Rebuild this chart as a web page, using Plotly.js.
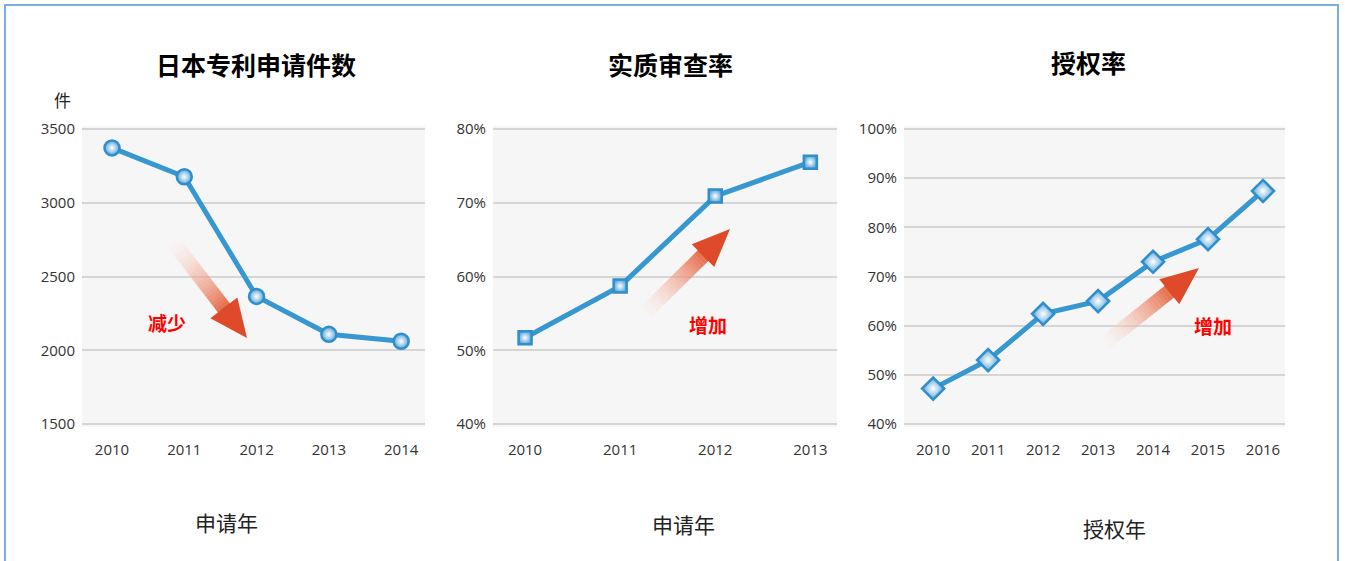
<!DOCTYPE html>
<html>
<head>
<meta charset="utf-8">
<script src="https://cdn.plot.ly/plotly-3.0.1.min.js"></script>
<style>html,body{margin:0;padding:0;background:#fff;}#chart{width:1345px;height:561px;}</style>
</head>
<body>
<div id="chart"></div>
<script>
// ---- data ----
const titles = ['日本专利申请件数', '实质审查率', '授权率'];
const xTitles = ['申请年', '申请年', '授权年'];
const yUnit = '件';
const years1 = ['2010', '2011', '2012', '2013', '2014'];
const applications = [3372, 3176, 2365, 2108, 2061];
const years2 = ['2010', '2011', '2012', '2013'];
const examRate = [51.7, 58.7, 70.9, 75.5];
const years3 = ['2010', '2011', '2012', '2013', '2014', '2015', '2016'];
const grantRate = [47.2, 53.0, 62.4, 65.0, 73.0, 77.6, 87.4];
const trendLabels = ['减少', '增加', '增加'];

// ---- layout helpers ----
const W = 1345, H = 561;
const px = x => x / W;
const py = y => 1 - y / H;
const lineColor = '#3797d0';
const tickFont = {family: 'Open Sans, Liberation Sans, sans-serif', size: 15, color: '#333'};

function markerStyle(symbol, size) {
  return {symbol: symbol, size: size, color: '#5aa7d8',
          gradient: {type: 'radial', color: '#ffffff'},
          line: {color: '#2f8ecb', width: 2.5}};
}

const traces = [
  {x: years1, y: applications, xaxis: 'x', yaxis: 'y', type: 'scatter', mode: 'lines+markers',
   line: {color: lineColor, width: 5}, marker: markerStyle('circle', 15), cliponaxis: false},
  {x: years2, y: examRate, xaxis: 'x2', yaxis: 'y2', type: 'scatter', mode: 'lines+markers',
   line: {color: lineColor, width: 5}, marker: markerStyle('square', 13), cliponaxis: false},
  {x: years3, y: grantRate, xaxis: 'x3', yaxis: 'y3', type: 'scatter', mode: 'lines+markers',
   line: {color: lineColor, width: 5}, marker: markerStyle('diamond', 17), cliponaxis: false}
];

function xAxis(dom, range, anchor) {
  return {domain: [px(dom[0]), px(dom[1])], range: range, type: 'category', anchor: anchor,
          showgrid: false, zeroline: false, showline: false,
          ticks: 'outside', ticklen: 9, tickcolor: 'rgba(0,0,0,0)', tickfont: tickFont, fixedrange: true};
}
// top/bottom pixel of first/last gridline; plot area padded by 3px each side
function yAxis(top, bottom, lo, hi, dtick, suffix, anchor) {
  const pad = 3;
  const perPx = (hi - lo) / (bottom - top);
  return {domain: [py(bottom + pad), py(top - pad)], range: [lo - pad * perPx, hi + pad * perPx],
          tickmode: 'linear', dtick: dtick, tick0: lo, ticksuffix: suffix,
          anchor: anchor, showgrid: true, gridcolor: '#d5d5d5', gridwidth: 2, zeroline: false, showline: false,
          ticks: 'outside', ticklen: 3, tickcolor: 'rgba(0,0,0,0)', tickfont: tickFont, fixedrange: true};
}

// gradient arrow made of segments + head, in pixel space -> paper
function arrowShapes(tail, tip, headLen, headHalf, shaftW) {
  const dx = tip[0] - tail[0], dy = tip[1] - tail[1];
  const L = Math.sqrt(dx * dx + dy * dy);
  const ux = dx / L, uy = dy / L;
  const nx = -uy, ny = ux;
  const base = [tip[0] - headLen * ux, tip[1] - headLen * uy];
  const shapes = [];
  const N = 24;
  const c0 = [252, 236, 228], c1 = [230, 100, 65];
  for (let i = 0; i < N; i++) {
    const t0 = i / N, t1 = (i + 1.05) / N;
    const t = (i + 0.5) / N;
    const a = 0.08 + 0.92 * Math.pow(t, 0.8);
    const c = c0.map((v, k) => Math.round(v + (c1[k] - v) * t));
    const ex = base[0] + ux * 2, ey = base[1] + uy * 2;
    const xa = tail[0] + (ex - tail[0]) * t0, ya = tail[1] + (ey - tail[1]) * t0;
    const xb = tail[0] + (ex - tail[0]) * Math.min(t1, 1), yb = tail[1] + (ey - tail[1]) * Math.min(t1, 1);
    shapes.push({type: 'line', xref: 'paper', yref: 'paper', x0: px(xa), y0: py(ya), x1: px(xb), y1: py(yb),
                 line: {color: `rgba(${c[0]},${c[1]},${c[2]},${a.toFixed(3)})`, width: shaftW}, layer: 'above'});
  }
  const p1 = [base[0] + headHalf * nx, base[1] + headHalf * ny];
  const p2 = [base[0] - headHalf * nx, base[1] - headHalf * ny];
  const path = `M ${px(p1[0])} ${py(p1[1])} L ${px(tip[0])} ${py(tip[1])} L ${px(p2[0])} ${py(p2[1])} Z`;
  shapes.push({type: 'path', xref: 'paper', yref: 'paper', path: path, fillcolor: '#de4a2a',
               line: {width: 0}, layer: 'above'});
  return shapes;
}

const shapes = [
  {type: 'rect', xref: 'paper', yref: 'paper', x0: px(5), x1: px(1338), y0: -0.1, y1: py(5),
   line: {color: '#7aaee0', width: 2}, fillcolor: 'rgba(0,0,0,0)', layer: 'below'}
].concat(
  arrowShapes([174, 243], [247, 338], 38, 17, 15),
  arrowShapes([645, 313], [730, 229], 38, 16, 15),
  arrowShapes([1105, 343], [1199, 268], 38, 16, 15)
);

function ann(text, x, y, font) {
  return {text: text, xref: 'paper', yref: 'paper', x: px(x), y: py(y), showarrow: false,
          xanchor: 'center', yanchor: 'middle', font: font};
}
const titleFont = {family: 'Noto Sans CJK SC, sans-serif', size: 25, color: '#000', weight: 'bold'};
const xtFont = {family: 'Noto Sans CJK SC, sans-serif', size: 21, color: '#222'};
const redFont = {family: 'Noto Sans CJK SC, sans-serif', size: 19, color: '#ff0000', weight: 'bold'};

const annotations = [
  ann(titles[0], 256, 64, titleFont),
  ann(titles[1], 670, 64, titleFont),
  ann(titles[2], 1088, 62, titleFont),
  ann(yUnit, 62, 99, {family: 'Noto Sans CJK SC, sans-serif', size: 17, color: '#222'}),
  ann(xTitles[0], 226, 522, xtFont),
  ann(xTitles[1], 683, 524, xtFont),
  ann(xTitles[2], 1114, 528, xtFont),
  ann(trendLabels[0], 167, 322, redFont),
  ann(trendLabels[1], 708, 324, redFont),
  ann(trendLabels[2], 1213, 325, redFont)
];

const layout = {
  width: W, height: H, margin: {l: 0, r: 0, t: 0, b: 0},
  paper_bgcolor: '#ffffff', plot_bgcolor: '#f6f6f6', showlegend: false,
  xaxis: xAxis([82, 425], [-0.415, 4.33], 'y'),
  yaxis: yAxis(129, 424, 1500, 3500, 500, '', 'x'),
  xaxis2: xAxis([493, 837], [-0.337, 3.28], 'y2'),
  yaxis2: yAxis(129, 424, 40, 80, 10, '%', 'x2'),
  xaxis3: xAxis([904, 1285], [-0.53, 6.4], 'y3'),
  yaxis3: yAxis(129, 424, 40, 100, 10, '%', 'x3'),
  shapes: shapes,
  annotations: annotations
};

Plotly.newPlot('chart', traces, layout, {displayModeBar: false, staticPlot: true});
</script>
</body>
</html>
